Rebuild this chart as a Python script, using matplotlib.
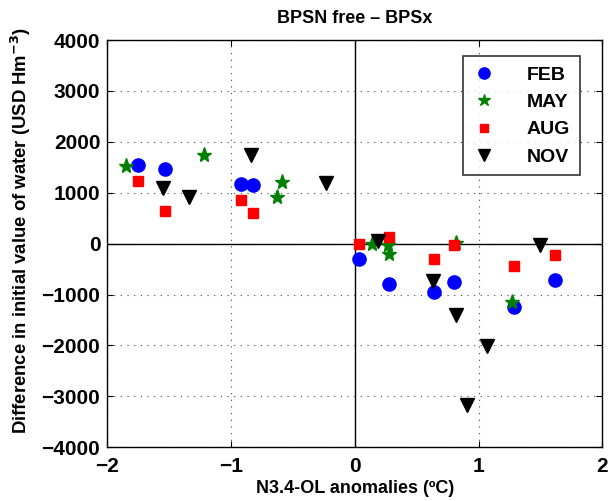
import matplotlib
matplotlib.use("Agg")
import matplotlib.pyplot as plt

plt.rcParams["font.family"] = ["Liberation Sans", "DejaVu Sans"]
plt.rcParams["font.weight"] = "bold"

feb_x = [-1.75, -1.53, -0.92, -0.82, 0.03, 0.28, 0.64, 0.80, 1.29, 1.62]
feb_y = [1546, 1468, 1173, 1159, -306, -786, -955, -752, -1244, -719]

may_x = [-1.85, -1.22, -0.59, -0.63, 0.14, 0.27, 0.28, 0.82, 1.27]
may_y = [1532, 1743, 1218, 912, -6, -26, -200, 8, -1151]

aug_x = [-1.75, -1.53, -0.92, -0.82, 0.03, 0.28, 0.64, 0.80, 1.29, 1.62]
aug_y = [1238, 637, 864, 603, -12, 138, -306, -31, -444, -222]

nov_x = [-1.55, -1.34, -0.84, -0.23, 0.19, 0.63, 0.82, 1.07, 0.91, 1.50]
nov_y = [1088, 917, 1743, 1187, 53, -733, -1401, -2004, -3169, -31]

fig = plt.figure(figsize=(6.15, 5.01), dpi=100)
ax = fig.add_axes([0.1745, 0.1072, 0.8048, 0.8128])

ax.plot(feb_x, feb_y, "o", color="blue", markersize=9.5, label="FEB", zorder=3)
ax.plot(may_x, may_y, "*", color="green", markersize=11, label="MAY", zorder=3)
ax.plot(aug_x, aug_y, "s", color="red", markersize=7.5, label="AUG", zorder=3)
ax.plot(nov_x, nov_y, "v", color="black", markersize=10, label="NOV", zorder=3)

ax.axhline(0, color="black", lw=1, zorder=2)
ax.axvline(0, color="black", lw=1, zorder=2)

ax.set_xlim(-2, 2)
ax.set_ylim(-4000, 4000)
ax.set_xticks([-2, -1, 0, 1, 2])
ax.set_yticks(range(-4000, 4001, 1000))
ax.set_xticklabels(["\u22122", "\u22121", "0", "1", "2"])
ax.set_yticklabels(["\u22124000", "\u22123000", "\u22122000", "\u22121000", "0",
                    "1000", "2000", "3000", "4000"])
ax.grid(True, linestyle=(0, (1, 5)), color="#444444", lw=0.8)
ax.tick_params(direction="in", top=True, right=True, labelsize=15, length=4)
ax.tick_params(axis="x", pad=7)
ax.tick_params(axis="y", pad=5)
for s in ax.spines.values():
    s.set_linewidth(1)

ax.set_title("BPSN free \u2013 BPSx", fontsize=13, fontweight="bold", pad=12)
ax.set_xlabel("N3.4-OL anomalies (\u00baC)", fontsize=13, fontweight="bold", labelpad=3)
ax.set_ylabel("Difference in initial value of water (USD Hm$^{\\mathbf{-3}}$)",
              fontsize=13.3, fontweight="bold")
ax.yaxis.set_label_coords(-0.15, 0.533)

leg = ax.legend(loc="upper right", bbox_to_anchor=(0.955, 0.96), fontsize=14,
                frameon=True, fancybox=False, edgecolor="black", borderpad=0.5,
                labelspacing=0.5, handletextpad=1.6, handlelength=1.2,
                borderaxespad=0, markerscale=0.85)
leg.get_frame().set_linewidth(1.2)

fig.savefig("out.png", dpi=100)
